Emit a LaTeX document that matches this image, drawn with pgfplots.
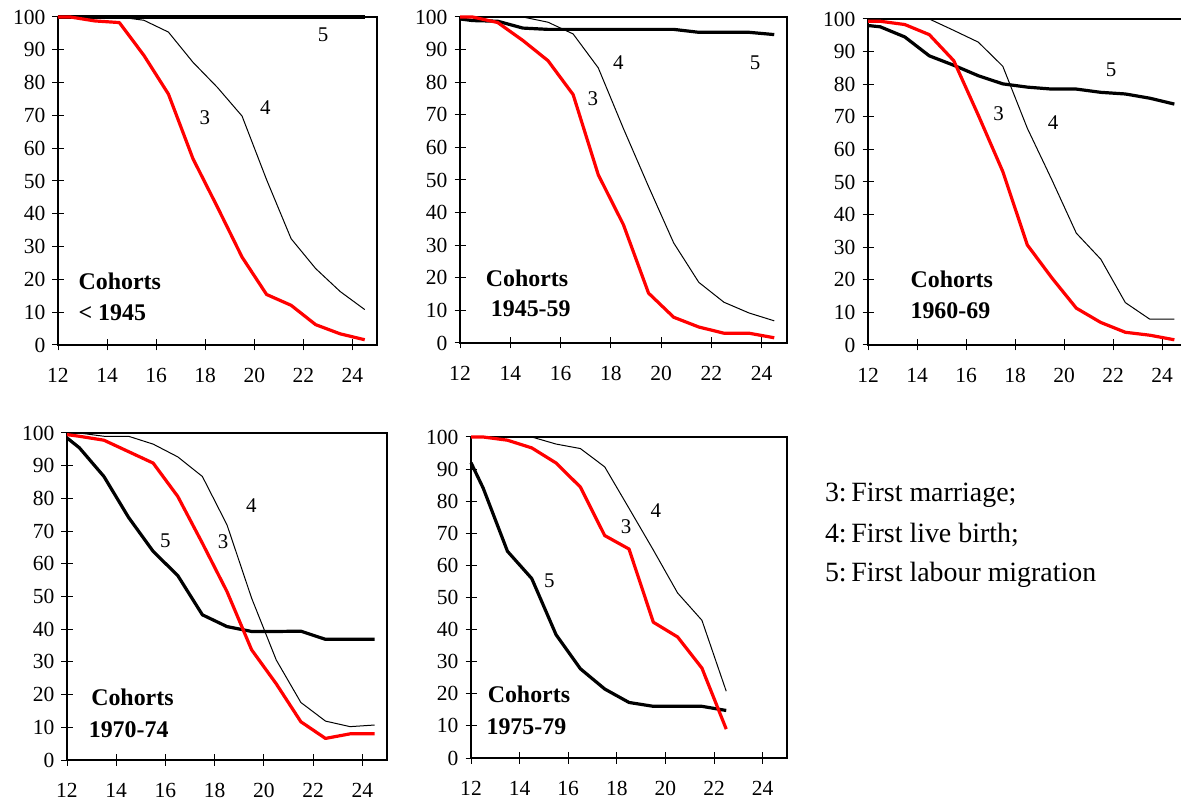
\documentclass[border=0pt]{standalone}
\usepackage{fontspec}
\setmainfont{Liberation Serif}
\usepackage{pgfplots}
\pgfplotsset{compat=1.18}

\pgfplotsset{
  panel/.style={
    scale only axis, anchor=south west, clip=false,
    xmin=12, xmax=25, ymin=0, ymax=100,
    xtick={12,14,...,24}, ytick={0,10,...,100},
    xtick pos=bottom, ytick pos=left,
    tick align=center, major tick length=5.5bp,
    axis line style={black, line width=0.7bp},
    tick style={black, line width=0.5bp},
    ticklabel style={font=\fontsize{10.8}{12}\selectfont},
    xticklabel style={yshift=-5.5bp},
    /pgf/number format/assume math mode=true,
  },
}
\tikzset{
  s3/.style={red, line width=1.6bp, line join=round},
  s4/.style={black, line width=0.5bp, line join=round},
  s5/.style={black, line width=1.6bp, line join=round},
  lab/.style={font=\fontsize{10.5}{12}\selectfont},
  coh/.style={font=\bfseries\fontsize{12}{14}\selectfont, anchor=west},
  leg/.style={anchor=west, font=\fontsize{14}{16}\selectfont},
}

\begin{document}
\begin{tikzpicture}
\clip (0,0) rectangle (590.5bp,400.5bp);
\useasboundingbox (0,0) rectangle (590.5bp,400.5bp);

% Cohorts < 1945
\begin{axis}[panel, at={(29bp,228bp)}, width=159.5bp, height=164bp]
\addplot[s5] coordinates {(12,100)(12.5,100)(13.5,100)(14.5,100)(15.5,100)(16.5,100)(17.5,100)(18.5,100)(19.5,100)(20.5,100)(21.5,100)(22.5,100)(23.5,100)(24.5,100)};
\addplot[s4] coordinates {(12,100)(12.5,100)(13.5,100)(14.5,100)(15.5,99)(16.5,95.4)(17.5,86.2)(18.5,78.5)(19.5,69.8)(20.5,50.4)(21.5,32.4)(22.5,23.3)(23.5,16.3)(24.5,10.8)};
\addplot[s3] coordinates {(12,100)(12.5,100)(13.5,98.8)(14.5,98.3)(15.5,88.3)(16.5,76.5)(17.5,56.8)(18.5,42)(19.5,26.8)(20.5,15.4)(21.5,12.1)(22.5,6.2)(23.5,3.4)(24.5,1.6)};
\node[lab] at (axis cs:22.8,94.6) {5};
\node[lab] at (axis cs:20.45,72.5) {4};
\node[lab] at (axis cs:17.98,69.2) {3};
\node[coh] at (axis cs:12.55,19.3) {Cohorts};
\node[coh] at (axis cs:12.55,9.7) {< 1945};
\end{axis}

% Cohorts 1945-59
\begin{axis}[panel, at={(230bp,229bp)}, width=163.4bp, height=163bp]
\addplot[s5] coordinates {(12,99.4)(12.5,98.9)(13.5,98.7)(14.5,96.6)(15.5,96.2)(16.5,96.2)(17.5,96.2)(18.5,96.2)(19.5,96.2)(20.5,96.2)(21.5,95.3)(22.5,95.3)(23.5,95.3)(24.5,94.6)};
\addplot[s4] coordinates {(12,100)(12.5,100)(13.5,100)(14.5,100)(15.5,98.4)(16.5,94.8)(17.5,84.4)(18.5,65.8)(19.5,48)(20.5,30.7)(21.5,18.6)(22.5,12.5)(23.5,9.2)(24.5,6.8)};
\addplot[s3] coordinates {(12,100)(12.5,100)(13.5,98.3)(14.5,92.8)(15.5,86.6)(16.5,76.2)(17.5,51.6)(18.5,36.3)(19.5,15.3)(20.5,7.9)(21.5,4.9)(22.5,3)(23.5,3)(24.5,1.6)};
\node[lab] at (axis cs:23.74,85.9) {5};
\node[lab] at (axis cs:18.3,85.9) {4};
\node[lab] at (axis cs:17.28,74.8) {3};
\node[coh] at (axis cs:12.75,19.9) {Cohorts};
\node[coh] at (axis cs:12.95,10.4) {1945-59};
\end{axis}

% Cohorts 1960-69
\begin{axis}[panel, at={(434bp,228bp)}, width=159.3bp, height=163bp]
\addplot[s5] coordinates {(12,98)(12.5,97.6)(13.5,94.5)(14.5,88.7)(15.5,85.8)(16.5,82.6)(17.5,80.1)(18.5,79.1)(19.5,78.5)(20.5,78.5)(21.5,77.5)(22.5,77)(23.5,75.7)(24.5,73.9)};
\addplot[s4] coordinates {(12,100)(12.5,100)(13.5,100)(14.5,100)(15.5,96.5)(16.5,92.9)(17.5,85.5)(18.5,66.5)(19.5,50.7)(20.5,34.3)(21.5,26.3)(22.5,13)(23.5,7.9)(24.5,7.9)};
\addplot[s3] coordinates {(12,99.3)(12.5,99.3)(13.5,98.3)(14.5,95.2)(15.5,87.2)(16.5,70.5)(17.5,53.2)(18.5,30.7)(19.5,20.6)(20.5,11.3)(21.5,6.9)(22.5,3.9)(23.5,3)(24.5,1.6)};
\node[lab] at (axis cs:21.92,84.4) {5};
\node[lab] at (axis cs:19.55,68.3) {4};
\node[lab] at (axis cs:17.33,71.1) {3};
\node[coh] at (axis cs:13.45,20.2) {Cohorts};
\node[coh] at (axis cs:13.45,10.4) {1960-69};
\end{axis}

% Cohorts 1970-74
\begin{axis}[panel, at={(33.5bp,20.5bp)}, width=160bp, height=163.5bp]
\addplot[s5] coordinates {(12,98.5)(12.5,95.5)(13.5,86.7)(14.5,74.2)(15.5,63.8)(16.5,56.4)(17.5,44.4)(18.5,40.8)(19.5,39.3)(20.5,39.3)(21.5,39.4)(22.5,36.9)(23.5,36.9)(24.5,36.9)};
\addplot[s4] coordinates {(12,100)(12.5,100)(13.5,99)(14.5,99)(15.5,96.6)(16.5,92.7)(17.5,86.7)(18.5,71.9)(19.5,49.5)(20.5,30.6)(21.5,17.6)(22.5,11.9)(23.5,10.2)(24.5,10.7)};
\addplot[s3] coordinates {(12,99.5)(12.5,99)(13.5,97.8)(14.5,94.3)(15.5,90.8)(16.5,80.6)(17.5,66.3)(18.5,51.5)(19.5,33.7)(20.5,23.3)(21.5,11.7)(22.5,6.6)(23.5,8)(24.5,8)};
\node[lab] at (axis cs:16.0,67) {5};
\node[lab] at (axis cs:19.49,77.8) {4};
\node[lab] at (axis cs:18.34,66.8) {3};
\node[coh] at (axis cs:12.7,19.1) {Cohorts};
\node[coh] at (axis cs:12.6,9.2) {1970-74};
\end{axis}

% Cohorts 1975-79
\begin{axis}[panel, at={(235.5bp,21.5bp)}, width=158bp, height=160.5bp]
\addplot[s5] coordinates {(12,92)(12.5,84.1)(13.5,64.4)(14.5,55.9)(15.5,38.4)(16.5,27.8)(17.5,21.5)(18.5,17.3)(19.5,16.1)(20.5,16.1)(21.5,16.1)(22.5,14.8)};
\addplot[s4] coordinates {(12,100)(12.5,100)(13.5,100)(14.5,100)(15.5,97.8)(16.5,96.4)(17.5,90.7)(18.5,77.8)(19.5,64.8)(20.5,51.4)(21.5,42.9)(22.5,20.8)};
\addplot[s3] coordinates {(12,100)(12.5,100)(13.5,99)(14.5,96.6)(15.5,91.9)(16.5,84.4)(17.5,69.3)(18.5,65.1)(19.5,42.3)(20.5,37.7)(21.5,28)(22.5,9)};
\node[lab] at (axis cs:15.22,55.2) {5};
\node[lab] at (axis cs:19.6,77) {4};
\node[lab] at (axis cs:18.38,72.2) {3};
\node[coh] at (axis cs:12.4,19.7) {Cohorts};
\node[coh] at (axis cs:12.35,9.7) {1975-79};
\end{axis}

\node[leg] at (409bp,153bp) {3:\,First marriage;};
\node[leg] at (409bp,133bp) {4:\,First live birth;};
\node[leg] at (409bp,113bp) {5:\,First labour migration};
\end{tikzpicture}
\end{document}
